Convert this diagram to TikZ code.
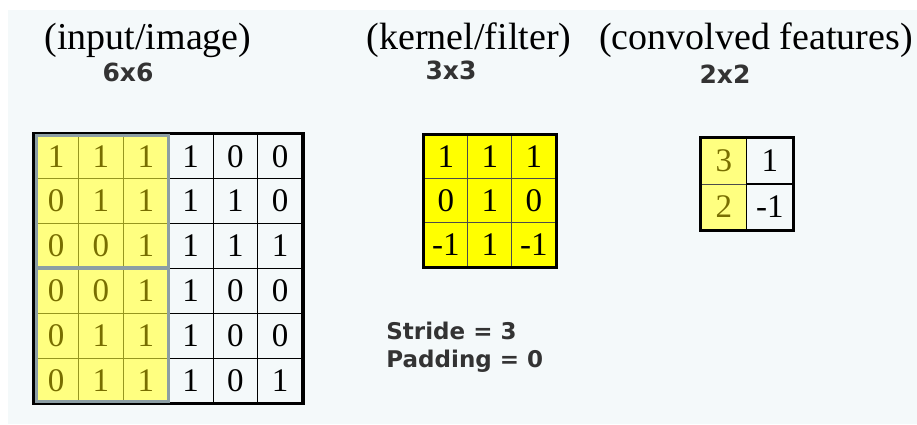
\documentclass[tikz,border=0pt]{standalone}
\usepackage{fontspec}
\setmainfont{Liberation Serif}
\newfontfamily\sizefont{DejaVu Sans}
\usepackage{tikz}
\usetikzlibrary{positioning,matrix,backgrounds}
\definecolor{paleblue}{RGB}{244,249,250}
\definecolor{softyellow}{RGB}{255,255,128}
\definecolor{fullyellow}{RGB}{255,255,0}
\definecolor{oliveline}{RGB}{150,150,30}
\definecolor{olivetext}{RGB}{120,110,0}
\definecolor{framegray}{RGB}{140,158,163}
\definecolor{fontgray}{RGB}{51,51,51}

\begin{document}
\begin{tikzpicture}[x=0.5pt, y=-0.5pt,
	title/.style={draw=none, inner sep=0pt, font=\fontsize{19}{22}\selectfont},
	sizelabel/.style={draw=none, inner sep=0pt, text=fontgray, font=\sizefont\bfseries\fontsize{12.5}{14}\selectfont},
	cell/.style={draw=black, line width=0.4pt, inner sep=0pt, fill=paleblue, font=\fontsize{16.5}{18}\selectfont},
	hotcell/.style={cell, fill=softyellow, draw=oliveline, text=olivetext},
	kernelcell/.style={cell, fill=fullyellow, draw=black!70},
	grid/.style={matrix of nodes, row sep=-0.4pt, column sep=-0.4pt, inner sep=0pt, anchor=north west},
	outline/.style={draw=black, line width=1.6pt},
	window/.style={draw=framegray, line width=1.7pt}
	]
	\useasboundingbox (0,0) rectangle (917,424);
	\fill[paleblue] (8,10) rectangle (917,424);

	% titles
	\node[title] (intitle) at (148,40) {(input/image)};
	\node[sizelabel] (insize) at (128,72) {6x6};
	\node[title] (ktitle) at (469,40) {(kernel/filter)};
	\node[title] (outtitle) at (756,40) {(convolved features)};
	\node[sizelabel] (ksize) at (451,70) {3x3};
	\node[sizelabel] (outsize) at (725,74) {2x2};

	% input 6x6
	\matrix (in) [grid, nodes={cell, minimum size=22.4pt},
		column 1/.style={nodes={hotcell}}, column 2/.style={nodes={hotcell}}, column 3/.style={nodes={hotcell}}] at (33,133) {
		1 & 1 & 1 & 1 & 0 & 0 \\
		0 & 1 & 1 & 1 & 1 & 0 \\
		0 & 0 & 1 & 1 & 1 & 1 \\
		0 & 0 & 1 & 1 & 0 & 0 \\
		0 & 1 & 1 & 1 & 0 & 0 \\
		0 & 1 & 1 & 1 & 0 & 1 \\
	};
	\draw[outline] (in-1-1.north west) rectangle (in-6-6.south east);
	\draw[window] ([shift={(3,2)}]in-1-1.north west) rectangle ([shift={(0,0)}]in-3-3.south east);
	\draw[window] ([shift={(3,0)}]in-4-1.north west) rectangle ([shift={(0,-2)}]in-6-3.south east);

	% kernel 3x3
	\matrix (k) [grid, nodes={kernelcell, minimum size=22pt}] at (423,134) {
		1 & 1 & 1 \\
		0 & 1 & 0 \\
		-1 & 1 & -1 \\
	};
	\draw[outline] (k-1-1.north west) rectangle (k-3-3.south east);

	% output 2x2
	\matrix (out) [grid, nodes={cell, minimum size=23pt},
		column 1/.style={nodes={hotcell, draw=black!70}}] at (700,137) {
		3 & 1 \\
		2 & -1 \\
	};
	\draw[outline] (out-1-1.north west) rectangle (out-2-2.south east);

	\node[sizelabel, anchor=west, align=left, font=\sizefont\bfseries\fontsize{11.5}{14}\selectfont] (params) at (386,347) {Stride = 3\\Padding = 0};
\end{tikzpicture}
\end{document}
